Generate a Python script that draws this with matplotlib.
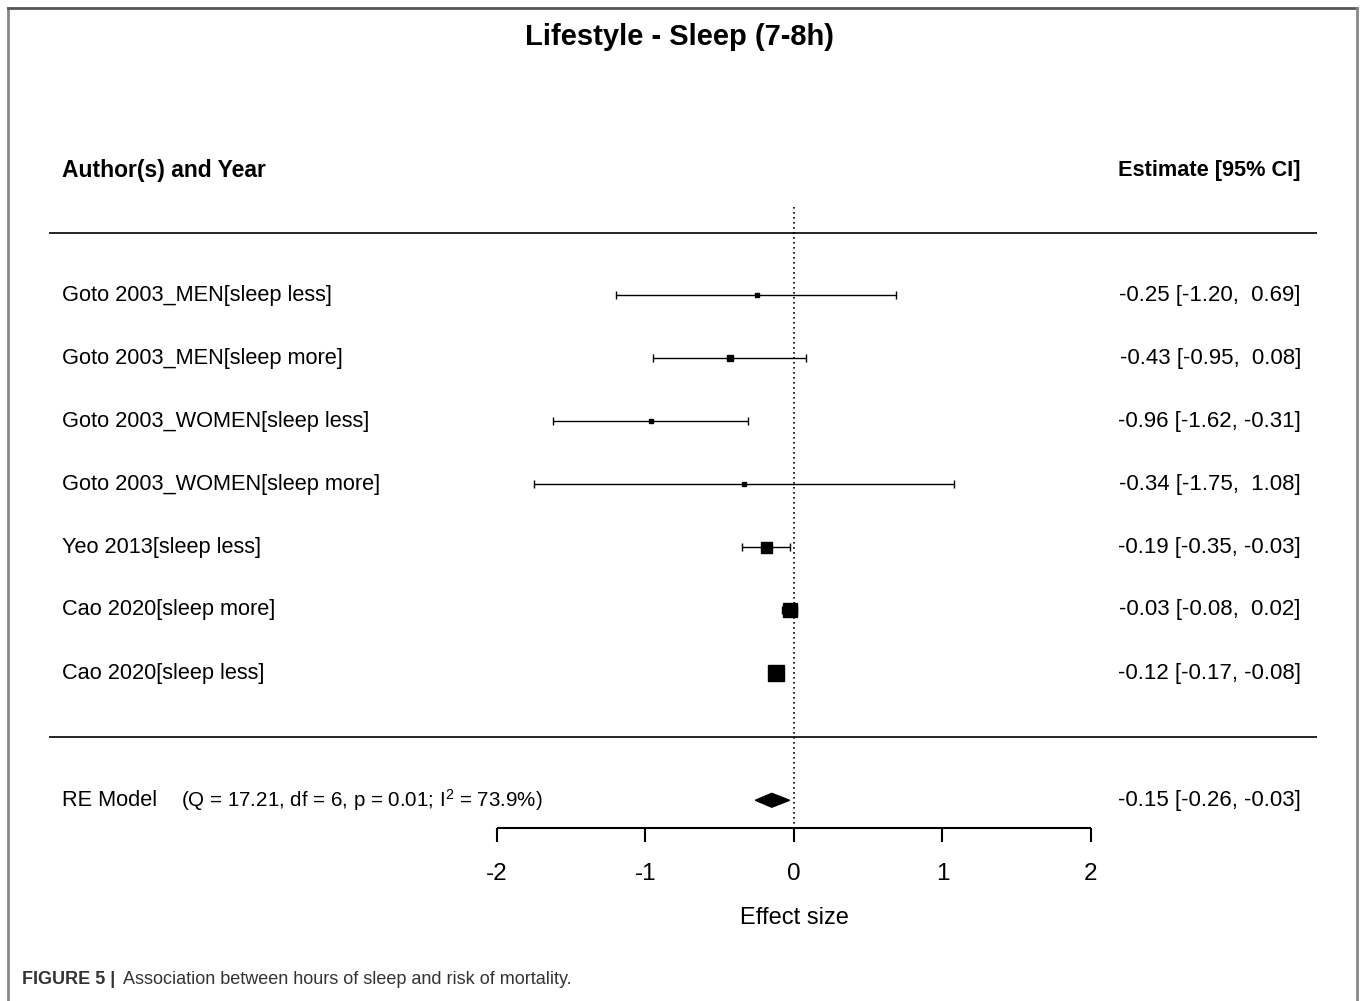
import matplotlib.pyplot as plt
from matplotlib.patches import Polygon
from matplotlib.lines import Line2D

plt.rcParams.update({
    "font.family": ["Liberation Sans", "DejaVu Sans"],
    "mathtext.fontset": "custom",
    "mathtext.rm": "Liberation Sans",
    "mathtext.it": "Liberation Sans",
})

# Study data
studies = ["Goto 2003_MEN[sleep less]", "Goto 2003_MEN[sleep more]",
           "Goto 2003_WOMEN[sleep less]", "Goto 2003_WOMEN[sleep more]",
           "Yeo 2013[sleep less]", "Cao 2020[sleep more]", "Cao 2020[sleep less]"]
est = [-0.25, -0.43, -0.96, -0.34, -0.19, -0.03, -0.12]
ci_lo = [-1.20, -0.95, -1.62, -1.75, -0.35, -0.08, -0.17]
ci_hi = [0.69, 0.08, -0.31, 1.08, -0.03, 0.02, -0.08]
sq_size = [5, 6, 5, 4, 11, 14, 16]  # marker size in px (study weight)

re_est, re_lo, re_hi = -0.15, -0.26, -0.03
re_stats = "(Q = 17.21, df = 6, p = 0.01; I$^2$ = 73.9%)"
ticks = [-2, -1, 0, 1, 2]

W, H = 1360, 1001
fig = plt.figure(figsize=(W / 100, H / 100), dpi=100)
ax = fig.add_axes([0, 0, 1, 1])
ax.axis("off")
# 148.5 px per unit, 0 at x=794 px; rows 63 px apart, row 0 at y=295 px
ax.set_xlim(-794 / 148.5, (W - 794) / 148.5)
ax.set_ylim((H - 295) / 63, -295 / 63)

# frame
fig.add_artist(Line2D([8 / W, 8 / W], [0, 1 - 8 / H], color="#888888", lw=2))
fig.add_artist(Line2D([8 / W, 1357 / W], [1 - 8 / H, 1 - 8 / H], color="#555555", lw=2))
fig.add_artist(Line2D([1357 / W, 1357 / W], [0, 1 - 8 / H], color="#888888", lw=2))

x_lab, x_right = -4.93, 3.414
ax.text(-0.77, -4.10, "Lifestyle - Sleep (7-8h)", ha="center", va="center",
        fontsize=21, fontweight="bold")
ax.text(x_lab, -1.98, "Author(s) and Year", ha="left", va="center", fontsize=16.5, fontweight="bold")
ax.text(x_right, -1.98, "Estimate [95% CI]", ha="right", va="center", fontsize=15.7, fontweight="bold")

for yy in (-0.98, 7.02):
    ax.hlines(yy, -5.02, 3.52, color="black", lw=1.2)

ax.vlines(0, -1.40, 8.46, color="black", lw=1.2, linestyles=(0, (1, 2)))

for i, name in enumerate(studies):
    ax.hlines(i, ci_lo[i], ci_hi[i], color="black", lw=1)
    ax.vlines([ci_lo[i], ci_hi[i]], i - 0.065, i + 0.065, color="black", lw=1)
    ax.plot(est[i], i, marker="s", ms=sq_size[i] * 0.72, color="black", mec="black")
    ax.text(x_lab, i, name, ha="left", va="center", fontsize=15.7)
    ax.text(x_right, i, f"{est[i]:.2f} [{ci_lo[i]:.2f}, {ci_hi[i]:5.2f}]",
            ha="right", va="center", fontsize=16)

y_re = 8.02
ax.add_patch(Polygon([[re_lo, y_re], [re_est, y_re - 0.11], [re_hi, y_re], [re_est, y_re + 0.11]],
                     closed=True, color="black"))
ax.text(x_lab, y_re, "RE Model", ha="left", va="center", fontsize=15.7)
ax.text(-4.13, y_re, re_stats, ha="left", va="center", fontsize=14.8)
ax.text(x_right, y_re, f"{re_est:.2f} [{re_lo:.2f}, {re_hi:5.2f}]",
        ha="right", va="center", fontsize=16)

# x axis
y_ax = 8.46
ax.hlines(y_ax, ticks[0], ticks[-1], color="black", lw=1.5)
ax.vlines(ticks, y_ax, y_ax + 0.22, color="black", lw=1.5)
for t in ticks:
    ax.text(t, 9.19, f"{t}", ha="center", va="center", fontsize=17.5)
ax.text(0, 9.89, "Effect size", ha="center", va="center", fontsize=17)

# caption
fig.text(22 / W, 1 - 980 / H, "FIGURE 5 |", ha="left", va="center", fontsize=13,
         fontweight="bold", color="#333333")
fig.text(123 / W, 1 - 980 / H, "Association between hours of sleep and risk of mortality.",
         ha="left", va="center", fontsize=13, color="#333333")

fig.savefig("out.png", dpi=100)
